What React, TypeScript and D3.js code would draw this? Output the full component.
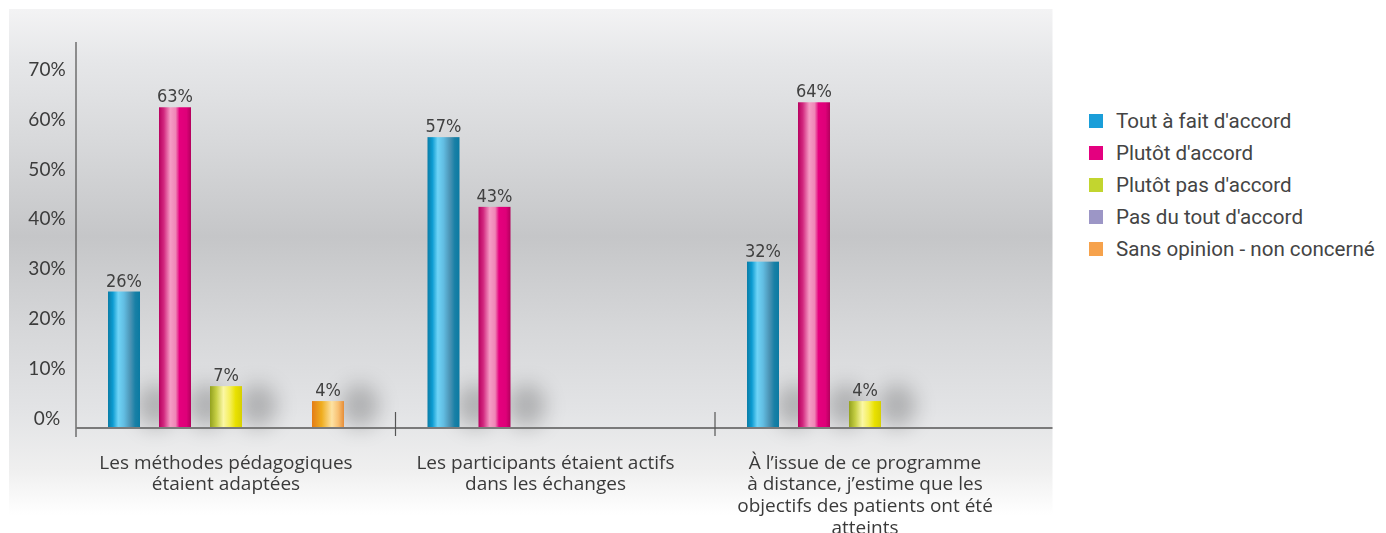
import React from "react";
import * as d3 from "d3";

const categories: string[][] = [
  ["Les méthodes pédagogiques", "étaient adaptées"],
  ["Les participants étaient actifs", "dans les échanges"],
  ["À l’issue de ce programme", "à distance, j’estime que les", "objectifs des patients ont été", "atteints"],
];
const categoryKeys = ["methodes", "participants", "objectifs"];

const seriesNames = [
  "Tout à fait d'accord",
  "Plutôt d'accord",
  "Plutôt pas d'accord",
  "Pas du tout d'accord",
  "Sans opinion - non concerné",
];

const toutAFait: (number | null)[] = [26, 57, 32];
const plutot: (number | null)[] = [63, 43, 64];
const plutotPas: (number | null)[] = [7, null, 4];
const pasDuTout: (number | null)[] = [null, null, null];
const sansOpinion: (number | null)[] = [4, null, null];

const seriesValues = [toutAFait, plutot, plutotPas, pasDuTout, sansOpinion];
const yTicks = [0, 10, 20, 30, 40, 50, 60, 70];

const legendColors = ["#1a9ed9", "#e4007f", "#c2d52f", "#9c96c6", "#f6a24c"];
const gradStops: [number, string][][] = [
  [[0, "#0a7ca6"], [0.15, "#0c9bd1"], [0.32, "#6fd4f7"], [0.5, "#62bde2"], [0.7, "#4b93b4"], [0.85, "#1980a6"], [1, "#0a7aa2"]],
  [[0, "#b8005f"], [0.15, "#d2287f"], [0.35, "#f59cc5"], [0.52, "#ef86b6"], [0.64, "#e5007d"], [0.86, "#de0079"], [1, "#b3005c"]],
  [[0, "#93a11e"], [0.2, "#c6cf45"], [0.42, "#fbf7a4"], [0.62, "#f5ef5c"], [0.8, "#e9e100"], [1, "#d6cf00"]],
  [[0, "#7d73ad"], [0.35, "#c9c3e6"], [0.7, "#9c96c6"], [1, "#7d73ad"]],
  [[0, "#e47c16"], [0.3, "#efad1f"], [0.62, "#fde2a3"], [0.82, "#f8c072"], [1, "#e68d38"]],
];

const W = 1386;
const H = 533;
const baseY = 428;

export default function App() {
  const x0 = d3.scaleBand<string>().domain(categoryKeys).range([76, 76 + 3 * 319.5]).padding(0);
  const x1 = d3.scaleBand<string>().domain(seriesNames).range([32, 268]).paddingInner(0.3725).paddingOuter(0);
  const y = d3.scaleLinear().domain([0, 70]).range([421, 72.4]);
  const bw = x1.bandwidth();

  const bars: { key: string; s: number; c: number; v: number; x: number }[] = [];
  seriesValues.forEach((vals, s) => {
    vals.forEach((v, c) => {
      if (v == null) return;
      bars.push({ key: `${s}-${c}`, s, c, v, x: (x0(categoryKeys[c]) as number) + (x1(seriesNames[s]) as number) });
    });
  });

  return (
    <svg width={W} height={H} style={{ position: "absolute", left: 0, top: 0, display: "block" }}>
      <defs>
        <linearGradient id="bg" x1="0" y1="0" x2="0" y2="1">
          <stop offset="0" stopColor="#f3f3f4" />
          <stop offset="0.1" stopColor="#e6e7e9" />
          <stop offset="0.28" stopColor="#d6d7d9" />
          <stop offset="0.45" stopColor="#c5c6c8" />
          <stop offset="0.63" stopColor="#d6d7d9" />
          <stop offset="0.8" stopColor="#e3e4e6" />
          <stop offset="0.91" stopColor="#efefef" />
          <stop offset="1" stopColor="#ffffff" />
        </linearGradient>
        {gradStops.map((stops, i) => (
          <linearGradient key={i} id={`g${i}`} x1="0" y1="0" x2="1" y2="0">
            {stops.map(([o, c], j) => (
              <stop key={j} offset={o} stopColor={c} />
            ))}
          </linearGradient>
        ))}
        <filter id="blur" x="-100%" y="-100%" width="300%" height="300%">
          <feGaussianBlur stdDeviation="10" />
        </filter>
      </defs>

      <rect x={9} y={9} width={1043.5} height={506} fill="url(#bg)" />

      {/* shadows */}
      <g filter="url(#blur)">
        {bars.map((b) => (
          <ellipse key={b.key} cx={b.x + bw + 16} cy={406} rx={19} ry={22} fill="#000" opacity={0.22} />
        ))}
      </g>

      {/* bars */}
      {bars.map((b) => (
        <rect key={b.key} x={b.x} y={y(b.v)} width={bw} height={baseY - y(b.v)} fill={`url(#g${b.s})`} />
      ))}

      {/* value labels */}
      {bars.map((b) => (
        <text
          key={b.key}
          x={b.x + bw / 2}
          y={y(b.v) - 11.5}
          textAnchor="middle"
          dominantBaseline="central"
          fontFamily="'Liberation Sans Narrow', 'DejaVu Sans Condensed', sans-serif"
          fontStretch="condensed"
          fontSize={18}
          fill="#404040"
        >
          {b.v}%
        </text>
      ))}

      {/* axes */}
      <line x1={76} y1={42} x2={76} y2={437} stroke="#6e6e6e" strokeWidth={1.5} />
      <line x1={76} y1={baseY} x2={1052.5} y2={baseY} stroke="#7a7a7a" strokeWidth={2} />
      {categoryKeys.slice(1).map((k) => (
        <line key={k} x1={x0(k) as number} y1={412} x2={x0(k) as number} y2={436} stroke="#555" strokeWidth={1.2} />
      ))}

      {yTicks.map((t) => (
        <text
          key={t}
          x={47}
          y={y(t) - 4}
          textAnchor="middle"
          dominantBaseline="central"
          fontFamily="Lato, sans-serif"
          fontSize={19}
          fill="#3c3c3c"
        >
          {t}%
        </text>
      ))}

      {categories.map((lines, c) => (
        <text
          key={c}
          textAnchor="middle"
          fontFamily="'Open Sans', sans-serif"
          fontSize={19}
          fill="#3a3a3a"
        >
          {lines.map((ln, i) => (
            <tspan key={i} x={(x0(categoryKeys[c]) as number) + 150} y={461.7 + i * 21.7} dominantBaseline="central">
              {ln}
            </tspan>
          ))}
        </text>
      ))}

      {/* legend */}
      {seriesNames.map((s, i) => (
        <g key={s} transform={`translate(1089, ${121 + i * 32})`}>
          <rect x={0} y={-7} width={14} height={14} fill={legendColors[i]} />
          <text x={27} y={0} dominantBaseline="central" fontFamily="Roboto, sans-serif" fontSize={20.6} fill="#444">
            {s}
          </text>
        </g>
      ))}
    </svg>
  );
}
